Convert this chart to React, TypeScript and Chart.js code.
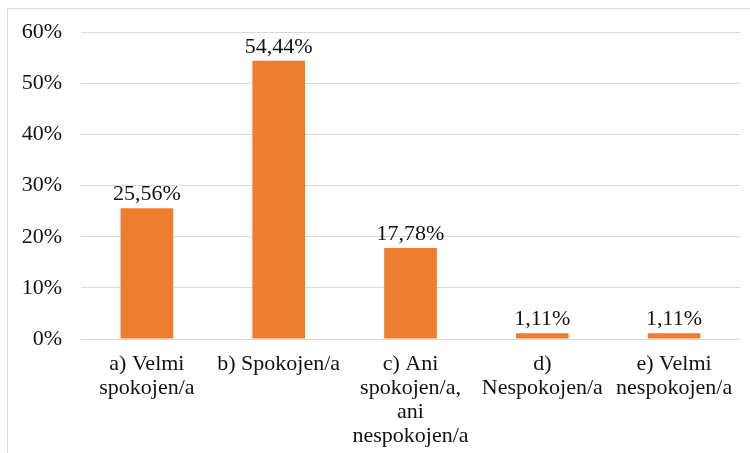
import React, { useEffect, useRef } from "react";
import { Chart, registerables } from "chart.js";

Chart.register(...registerables);

const categories: string[][] = [
  ["a) Velmi", "spokojen/a"],
  ["b) Spokojen/a"],
  ["c) Ani", "spokojen/a,", "ani", "nespokojen/a"],
  ["d)", "Nespokojen/a"],
  ["e) Velmi", "nespokojen/a"],
];
const values: number[] = [25.56, 54.44, 17.78, 1.11, 1.11];
const yTicks: number[] = [0, 10, 20, 30, 40, 50, 60];

const FONT = '"Liberation Serif", "DejaVu Serif", serif';
const TEXT = "#111111";
const GRID = "#d9d9d9";
const BAR = "#ED7D31";

const fmt = (v: number) => v.toFixed(2).replace(".", ",") + "%";

const frame = {
  id: "frame",
  beforeDraw(chart: any) {
    const ctx = chart.ctx;
    ctx.save();
    ctx.fillStyle = "#ffffff";
    ctx.fillRect(0, 0, chart.width, chart.height);
    ctx.strokeStyle = GRID;
    ctx.lineWidth = 1;
    ctx.beginPath();
    ctx.moveTo(7.5, chart.height + 5);
    ctx.lineTo(7.5, 8.5);
    ctx.lineTo(chart.width + 5, 8.5);
    ctx.stroke();
    ctx.restore();
  },
};

const valueLabels = {
  id: "valueLabels",
  afterDatasetsDraw(chart: any) {
    const ctx = chart.ctx;
    const meta = chart.getDatasetMeta(0);
    ctx.save();
    ctx.font = `22px ${FONT}`;
    ctx.fillStyle = TEXT;
    ctx.textAlign = "center";
    ctx.textBaseline = "alphabetic";
    meta.data.forEach((el: any, i: number) => {
      ctx.fillText(fmt(values[i]), el.x, el.y - 8);
    });
    ctx.restore();
  },
};

export default function App() {
  const ref = useRef<HTMLCanvasElement | null>(null);
  useEffect(() => {
    if (!ref.current) return;
    let chart: Chart | null = null;
    let cancelled = false;
    const build = () => {
      if (cancelled || !ref.current) return;
      chart = new Chart(ref.current, {
        type: "bar",
        data: {
          labels: categories,
          datasets: [
            {
              data: values,
              backgroundColor: BAR,
              barPercentage: 0.4,
              categoryPercentage: 1,
            },
          ],
        },
        options: {
          animation: false,
          responsive: false,
          devicePixelRatio: 1,
          layout: { padding: { top: 29, right: 10, bottom: 0, left: 0 } },
          plugins: { legend: { display: false }, tooltip: { enabled: false } },
          scales: {
            x: {
              grid: { display: false },
              border: { display: false },
              ticks: {
                color: TEXT,
                font: { family: FONT, size: 22, lineHeight: 1.1 },
                padding: 5,
                maxRotation: 0,
                autoSkip: false,
              },
              afterFit: (s: any) => {
                s.height = 114;
              },
            },
            y: {
              min: 0,
              max: 60,
              afterBuildTicks: (s: any) => {
                s.ticks = yTicks.map((v) => ({ value: v }));
              },
              grid: { color: GRID, lineWidth: 1, drawTicks: false },
              border: { display: false },
              ticks: {
                color: TEXT,
                font: { family: FONT, size: 22 },
                padding: 19,
                callback: (v: any) => `${v}%`,
              },
              afterFit: (s: any) => {
                s.width = 81;
              },
            },
          },
        },
        plugins: [frame, valueLabels],
      });
    };
    const fonts: any = (document as any).fonts;
    if (fonts && fonts.load) {
      Promise.all([
        fonts.load('22px "Liberation Serif"'),
        fonts.load('22px "DejaVu Serif"'),
      ])
        .catch(() => null)
        .then(build);
    } else {
      build();
    }
    return () => {
      cancelled = true;
      if (chart) chart.destroy();
    };
  }, []);
  return (
    <div style={{ position: "absolute", left: 0, top: 0, width: 750, height: 453 }}>
      <canvas ref={ref} width={750} height={453} />
    </div>
  );
}
